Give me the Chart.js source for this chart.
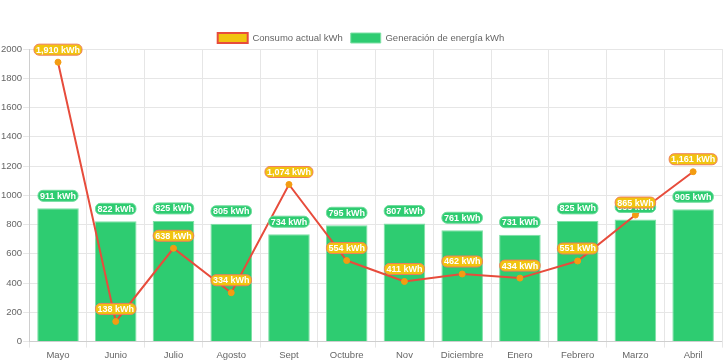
<!DOCTYPE html>
<html>
<head>
<meta charset="utf-8">
<script src="https://cdn.jsdelivr.net/npm/chart.js@4"></script>
<style>
  html, body { margin: 0; padding: 0; background: #fff; }
  #wrap { width: 728px; height: 363px; }
</style>
</head>
<body>
<div id="wrap"><canvas id="chart"></canvas></div>
<script>
const months = ['Mayo', 'Junio', 'Julio', 'Agosto', 'Sept', 'Octubre', 'Nov', 'Diciembre', 'Enero', 'Febrero', 'Marzo', 'Abril'];
const consumo = [1910, 138, 638, 334, 1074, 554, 411, 462, 434, 551, 865, 1161];
const generacion = [911, 822, 825, 805, 734, 795, 807, 761, 731, 825, 835, 905];

// draws the rounded "xxx kWh" tags above each bar / point
const valueTags = {
    id: 'valueTags',
    afterDatasetsDraw(chart) {
        const ctx = chart.ctx;
        const order = [1, 0]; // bars first, line tags on top
        ctx.save();
        ctx.font = 'bold 9px "Liberation Sans", Arial, sans-serif';
        ctx.textAlign = 'center';
        ctx.textBaseline = 'middle';
        order.forEach((di) => {
            const ds = chart.data.datasets[di];
            const meta = chart.getDatasetMeta(di);
            meta.data.forEach((el, i) => {
                const txt = ds.data[i].toLocaleString('en-US') + ' kWh';
                const w = ctx.measureText(txt).width + 4;
                const h = 11;
                const cx = el.x;
                const cy = el.y - 12.5;
                ctx.beginPath();
                ctx.roundRect(cx - w / 2, cy - h / 2, w, h, 5);
                ctx.fillStyle = ds.tagFill;
                ctx.fill();
                ctx.lineWidth = 1;
                ctx.strokeStyle = ds.tagBorder;
                ctx.stroke();
                ctx.fillStyle = '#fff';
                ctx.fillText(txt, cx, cy + 0.5);
            });
        });
        ctx.restore();
    }
};

// pull the plot a bit closer to the legend
const tightLegend = {
    id: 'tightLegend',
    beforeInit(chart) {
        const fit = chart.legend.fit;
        chart.legend.fit = function () {
            fit.call(this);
            this.height -= 4;
        };
    }
};

new Chart(document.getElementById('chart'), {
    type: 'bar',
    data: {
        labels: months,
        datasets: [
            {
                type: 'line',
                label: 'Consumo actual kWh',
                data: consumo,
                backgroundColor: '#f1c40f',
                borderColor: '#e74c3c',
                borderWidth: 2,
                tension: 0,
                pointRadius: 3,
                pointBackgroundColor: '#f39c12',
                pointBorderColor: '#f39c12',
                pointBorderWidth: 1,
                order: 0,
                tagFill: '#f1c40f',
                tagBorder: '#ee7d5c'
            },
            {
                label: 'Generación de energía kWh',
                data: generacion,
                backgroundColor: '#2ecc71',
                borderColor: '#7fe0a6',
                borderWidth: 1,
                order: 1,
                tagFill: '#2ecc71',
                tagBorder: '#6fdc9c'
            }
        ]
    },
    options: {
        responsive: true,
        maintainAspectRatio: false,
        animation: false,
        layout: { padding: { top: 25, right: 6, left: 0, bottom: 0 } },
        plugins: {
            legend: {
                labels: {
                    boxWidth: 30,
                    boxHeight: 10,
                    padding: 8,
                    color: '#666',
                    font: { size: 9.5 }
                }
            },
            tooltip: { enabled: false }
        },
        scales: {
            y: {
                min: 0,
                max: 2000,
                ticks: {
                    stepSize: 200,
                    color: '#666',
                    font: { size: 9.5 },
                    padding: 1,
                    callback: (v) => String(v)
                },
                grid: { color: '#e6e6e6', tickLength: 6 }
            },
            x: {
                ticks: { color: '#666', font: { size: 9.5 }, padding: 2 },
                grid: { color: '#e6e6e6', tickLength: 6 }
            }
        }
    },
    plugins: [valueTags, tightLegend]
});
</script>
</body>
</html>
